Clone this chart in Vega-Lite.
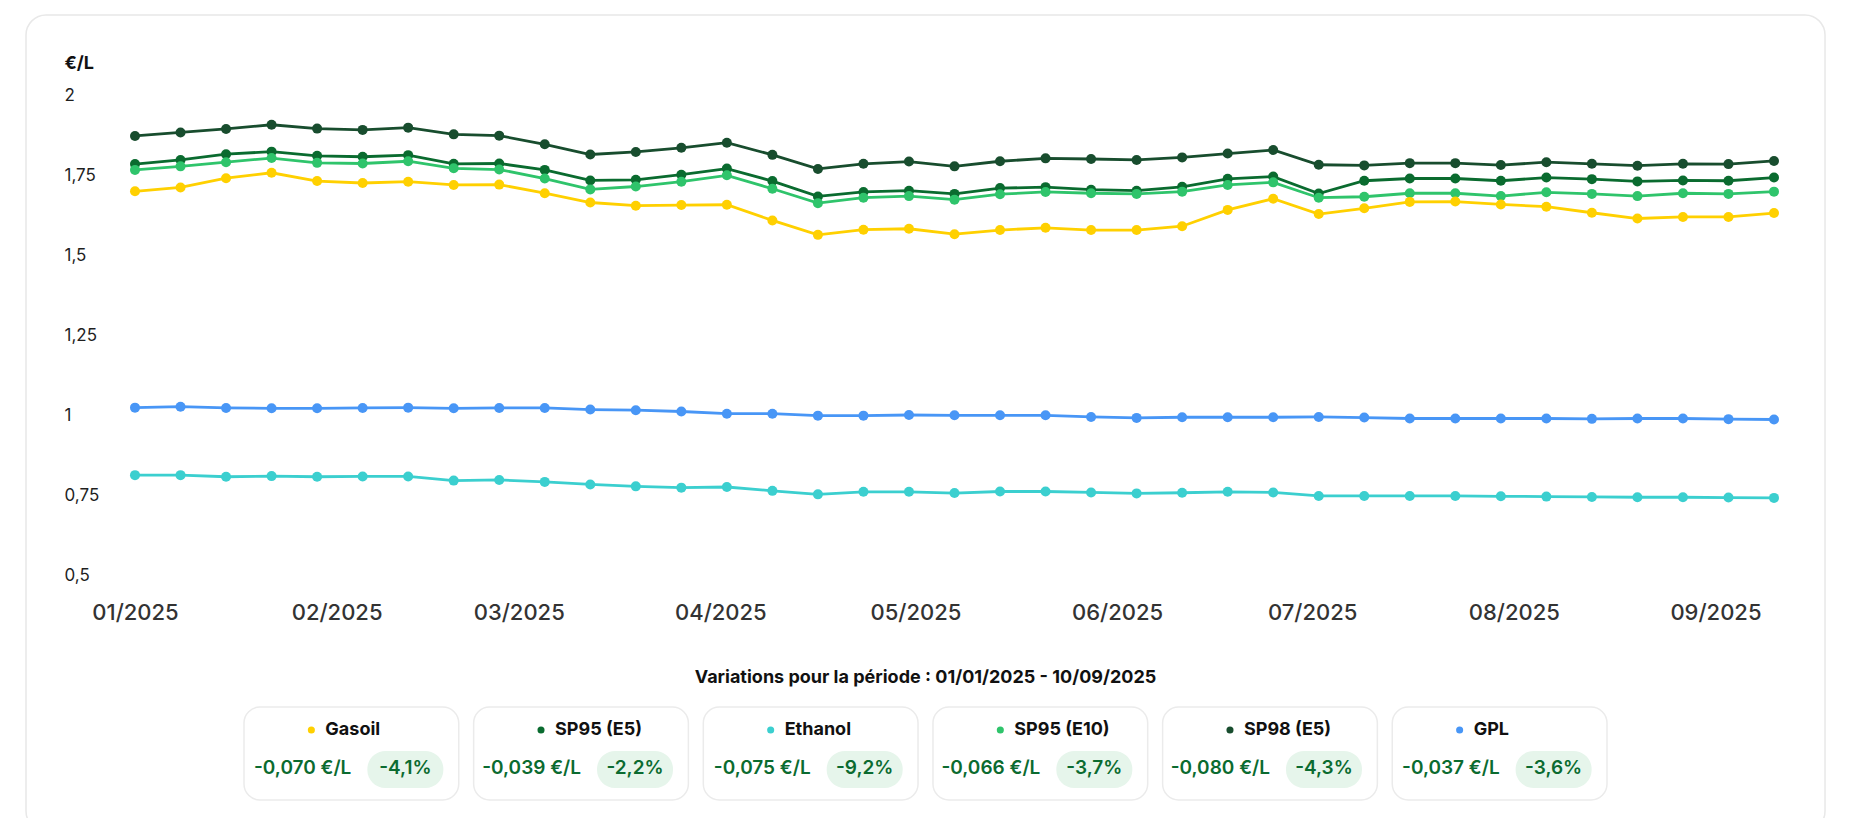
{
  "$schema": "https://vega.github.io/schema/vega-lite/v6.json",
  "width": 1643,
  "height": 480,
  "autosize": {"type": "none"},
  "padding": {"left": 131, "top": 95, "right": 82, "bottom": 243},
  "background": "white",
  "config": {"font": "Inter", "view": {"stroke": null}},
  "datasets": {
    "prices": [
      {"date": "2025-01-01", "fuel": "GPL", "price": 1.023}, {"date": "2025-01-08", "fuel": "GPL", "price": 1.026},
      {"date": "2025-01-15", "fuel": "GPL", "price": 1.022}, {"date": "2025-01-22", "fuel": "GPL", "price": 1.021},
      {"date": "2025-01-29", "fuel": "GPL", "price": 1.021}, {"date": "2025-02-05", "fuel": "GPL", "price": 1.022},
      {"date": "2025-02-12", "fuel": "GPL", "price": 1.023}, {"date": "2025-02-19", "fuel": "GPL", "price": 1.021},
      {"date": "2025-02-26", "fuel": "GPL", "price": 1.022}, {"date": "2025-03-05", "fuel": "GPL", "price": 1.022},
      {"date": "2025-03-12", "fuel": "GPL", "price": 1.017}, {"date": "2025-03-19", "fuel": "GPL", "price": 1.015},
      {"date": "2025-03-26", "fuel": "GPL", "price": 1.011}, {"date": "2025-04-02", "fuel": "GPL", "price": 1.004},
      {"date": "2025-04-09", "fuel": "GPL", "price": 1.004}, {"date": "2025-04-16", "fuel": "GPL", "price": 0.998},
      {"date": "2025-04-23", "fuel": "GPL", "price": 0.998}, {"date": "2025-04-30", "fuel": "GPL", "price": 1.000},
      {"date": "2025-05-07", "fuel": "GPL", "price": 0.999}, {"date": "2025-05-14", "fuel": "GPL", "price": 0.999},
      {"date": "2025-05-21", "fuel": "GPL", "price": 0.999}, {"date": "2025-05-28", "fuel": "GPL", "price": 0.994},
      {"date": "2025-06-04", "fuel": "GPL", "price": 0.991}, {"date": "2025-06-11", "fuel": "GPL", "price": 0.993},
      {"date": "2025-06-18", "fuel": "GPL", "price": 0.993}, {"date": "2025-06-25", "fuel": "GPL", "price": 0.993},
      {"date": "2025-07-02", "fuel": "GPL", "price": 0.994}, {"date": "2025-07-09", "fuel": "GPL", "price": 0.992},
      {"date": "2025-07-16", "fuel": "GPL", "price": 0.989}, {"date": "2025-07-23", "fuel": "GPL", "price": 0.989},
      {"date": "2025-07-30", "fuel": "GPL", "price": 0.989}, {"date": "2025-08-06", "fuel": "GPL", "price": 0.989},
      {"date": "2025-08-13", "fuel": "GPL", "price": 0.988}, {"date": "2025-08-20", "fuel": "GPL", "price": 0.989},
      {"date": "2025-08-27", "fuel": "GPL", "price": 0.989}, {"date": "2025-09-03", "fuel": "GPL", "price": 0.987},
      {"date": "2025-09-10", "fuel": "GPL", "price": 0.986},

      {"date": "2025-01-01", "fuel": "Ethanol", "price": 0.812}, {"date": "2025-01-08", "fuel": "Ethanol", "price": 0.812},
      {"date": "2025-01-15", "fuel": "Ethanol", "price": 0.807}, {"date": "2025-01-22", "fuel": "Ethanol", "price": 0.809},
      {"date": "2025-01-29", "fuel": "Ethanol", "price": 0.807}, {"date": "2025-02-05", "fuel": "Ethanol", "price": 0.808},
      {"date": "2025-02-12", "fuel": "Ethanol", "price": 0.808}, {"date": "2025-02-19", "fuel": "Ethanol", "price": 0.795},
      {"date": "2025-02-26", "fuel": "Ethanol", "price": 0.797}, {"date": "2025-03-05", "fuel": "Ethanol", "price": 0.791},
      {"date": "2025-03-12", "fuel": "Ethanol", "price": 0.783}, {"date": "2025-03-19", "fuel": "Ethanol", "price": 0.777},
      {"date": "2025-03-26", "fuel": "Ethanol", "price": 0.773}, {"date": "2025-04-02", "fuel": "Ethanol", "price": 0.775},
      {"date": "2025-04-09", "fuel": "Ethanol", "price": 0.763}, {"date": "2025-04-16", "fuel": "Ethanol", "price": 0.752},
      {"date": "2025-04-23", "fuel": "Ethanol", "price": 0.760}, {"date": "2025-04-30", "fuel": "Ethanol", "price": 0.760},
      {"date": "2025-05-07", "fuel": "Ethanol", "price": 0.756}, {"date": "2025-05-14", "fuel": "Ethanol", "price": 0.761},
      {"date": "2025-05-21", "fuel": "Ethanol", "price": 0.761}, {"date": "2025-05-28", "fuel": "Ethanol", "price": 0.758},
      {"date": "2025-06-04", "fuel": "Ethanol", "price": 0.755}, {"date": "2025-06-11", "fuel": "Ethanol", "price": 0.757},
      {"date": "2025-06-18", "fuel": "Ethanol", "price": 0.760}, {"date": "2025-06-25", "fuel": "Ethanol", "price": 0.758},
      {"date": "2025-07-02", "fuel": "Ethanol", "price": 0.747}, {"date": "2025-07-09", "fuel": "Ethanol", "price": 0.747},
      {"date": "2025-07-16", "fuel": "Ethanol", "price": 0.747}, {"date": "2025-07-23", "fuel": "Ethanol", "price": 0.747},
      {"date": "2025-07-30", "fuel": "Ethanol", "price": 0.746}, {"date": "2025-08-06", "fuel": "Ethanol", "price": 0.745},
      {"date": "2025-08-13", "fuel": "Ethanol", "price": 0.744}, {"date": "2025-08-20", "fuel": "Ethanol", "price": 0.743},
      {"date": "2025-08-27", "fuel": "Ethanol", "price": 0.743}, {"date": "2025-09-03", "fuel": "Ethanol", "price": 0.742},
      {"date": "2025-09-10", "fuel": "Ethanol", "price": 0.741},

      {"date": "2025-01-01", "fuel": "SP98 (E5)", "price": 1.872}, {"date": "2025-01-08", "fuel": "SP98 (E5)", "price": 1.883},
      {"date": "2025-01-15", "fuel": "SP98 (E5)", "price": 1.894}, {"date": "2025-01-22", "fuel": "SP98 (E5)", "price": 1.907},
      {"date": "2025-01-29", "fuel": "SP98 (E5)", "price": 1.895}, {"date": "2025-02-05", "fuel": "SP98 (E5)", "price": 1.891},
      {"date": "2025-02-12", "fuel": "SP98 (E5)", "price": 1.898}, {"date": "2025-02-19", "fuel": "SP98 (E5)", "price": 1.877},
      {"date": "2025-02-26", "fuel": "SP98 (E5)", "price": 1.873}, {"date": "2025-03-05", "fuel": "SP98 (E5)", "price": 1.846},
      {"date": "2025-03-12", "fuel": "SP98 (E5)", "price": 1.814}, {"date": "2025-03-19", "fuel": "SP98 (E5)", "price": 1.822},
      {"date": "2025-03-26", "fuel": "SP98 (E5)", "price": 1.835}, {"date": "2025-04-02", "fuel": "SP98 (E5)", "price": 1.851},
      {"date": "2025-04-09", "fuel": "SP98 (E5)", "price": 1.813}, {"date": "2025-04-16", "fuel": "SP98 (E5)", "price": 1.769},
      {"date": "2025-04-23", "fuel": "SP98 (E5)", "price": 1.785}, {"date": "2025-04-30", "fuel": "SP98 (E5)", "price": 1.792},
      {"date": "2025-05-07", "fuel": "SP98 (E5)", "price": 1.777}, {"date": "2025-05-14", "fuel": "SP98 (E5)", "price": 1.793},
      {"date": "2025-05-21", "fuel": "SP98 (E5)", "price": 1.802}, {"date": "2025-05-28", "fuel": "SP98 (E5)", "price": 1.800},
      {"date": "2025-06-04", "fuel": "SP98 (E5)", "price": 1.797}, {"date": "2025-06-11", "fuel": "SP98 (E5)", "price": 1.805},
      {"date": "2025-06-18", "fuel": "SP98 (E5)", "price": 1.817}, {"date": "2025-06-25", "fuel": "SP98 (E5)", "price": 1.828},
      {"date": "2025-07-02", "fuel": "SP98 (E5)", "price": 1.782}, {"date": "2025-07-09", "fuel": "SP98 (E5)", "price": 1.780},
      {"date": "2025-07-16", "fuel": "SP98 (E5)", "price": 1.787}, {"date": "2025-07-23", "fuel": "SP98 (E5)", "price": 1.787},
      {"date": "2025-07-30", "fuel": "SP98 (E5)", "price": 1.781}, {"date": "2025-08-06", "fuel": "SP98 (E5)", "price": 1.790},
      {"date": "2025-08-13", "fuel": "SP98 (E5)", "price": 1.785}, {"date": "2025-08-20", "fuel": "SP98 (E5)", "price": 1.779},
      {"date": "2025-08-27", "fuel": "SP98 (E5)", "price": 1.785}, {"date": "2025-09-03", "fuel": "SP98 (E5)", "price": 1.784},
      {"date": "2025-09-10", "fuel": "SP98 (E5)", "price": 1.794},

      {"date": "2025-01-01", "fuel": "SP95 (E5)", "price": 1.784}, {"date": "2025-01-08", "fuel": "SP95 (E5)", "price": 1.797},
      {"date": "2025-01-15", "fuel": "SP95 (E5)", "price": 1.815}, {"date": "2025-01-22", "fuel": "SP95 (E5)", "price": 1.823},
      {"date": "2025-01-29", "fuel": "SP95 (E5)", "price": 1.810}, {"date": "2025-02-05", "fuel": "SP95 (E5)", "price": 1.807},
      {"date": "2025-02-12", "fuel": "SP95 (E5)", "price": 1.812}, {"date": "2025-02-19", "fuel": "SP95 (E5)", "price": 1.785},
      {"date": "2025-02-26", "fuel": "SP95 (E5)", "price": 1.786}, {"date": "2025-03-05", "fuel": "SP95 (E5)", "price": 1.766},
      {"date": "2025-03-12", "fuel": "SP95 (E5)", "price": 1.733}, {"date": "2025-03-19", "fuel": "SP95 (E5)", "price": 1.735},
      {"date": "2025-03-26", "fuel": "SP95 (E5)", "price": 1.751}, {"date": "2025-04-02", "fuel": "SP95 (E5)", "price": 1.770},
      {"date": "2025-04-09", "fuel": "SP95 (E5)", "price": 1.731}, {"date": "2025-04-16", "fuel": "SP95 (E5)", "price": 1.683},
      {"date": "2025-04-23", "fuel": "SP95 (E5)", "price": 1.697}, {"date": "2025-04-30", "fuel": "SP95 (E5)", "price": 1.701},
      {"date": "2025-05-07", "fuel": "SP95 (E5)", "price": 1.691}, {"date": "2025-05-14", "fuel": "SP95 (E5)", "price": 1.709},
      {"date": "2025-05-21", "fuel": "SP95 (E5)", "price": 1.712}, {"date": "2025-05-28", "fuel": "SP95 (E5)", "price": 1.704},
      {"date": "2025-06-04", "fuel": "SP95 (E5)", "price": 1.701}, {"date": "2025-06-11", "fuel": "SP95 (E5)", "price": 1.713},
      {"date": "2025-06-18", "fuel": "SP95 (E5)", "price": 1.738}, {"date": "2025-06-25", "fuel": "SP95 (E5)", "price": 1.745},
      {"date": "2025-07-02", "fuel": "SP95 (E5)", "price": 1.692}, {"date": "2025-07-09", "fuel": "SP95 (E5)", "price": 1.732},
      {"date": "2025-07-16", "fuel": "SP95 (E5)", "price": 1.739}, {"date": "2025-07-23", "fuel": "SP95 (E5)", "price": 1.739},
      {"date": "2025-07-30", "fuel": "SP95 (E5)", "price": 1.732}, {"date": "2025-08-06", "fuel": "SP95 (E5)", "price": 1.742},
      {"date": "2025-08-13", "fuel": "SP95 (E5)", "price": 1.737}, {"date": "2025-08-20", "fuel": "SP95 (E5)", "price": 1.730},
      {"date": "2025-08-27", "fuel": "SP95 (E5)", "price": 1.733}, {"date": "2025-09-03", "fuel": "SP95 (E5)", "price": 1.732},
      {"date": "2025-09-10", "fuel": "SP95 (E5)", "price": 1.742},

      {"date": "2025-01-01", "fuel": "SP95 (E10)", "price": 1.766}, {"date": "2025-01-08", "fuel": "SP95 (E10)", "price": 1.777},
      {"date": "2025-01-15", "fuel": "SP95 (E10)", "price": 1.790}, {"date": "2025-01-22", "fuel": "SP95 (E10)", "price": 1.803},
      {"date": "2025-01-29", "fuel": "SP95 (E10)", "price": 1.788}, {"date": "2025-02-05", "fuel": "SP95 (E10)", "price": 1.786},
      {"date": "2025-02-12", "fuel": "SP95 (E10)", "price": 1.793}, {"date": "2025-02-19", "fuel": "SP95 (E10)", "price": 1.771},
      {"date": "2025-02-26", "fuel": "SP95 (E10)", "price": 1.767}, {"date": "2025-03-05", "fuel": "SP95 (E10)", "price": 1.739},
      {"date": "2025-03-12", "fuel": "SP95 (E10)", "price": 1.705}, {"date": "2025-03-19", "fuel": "SP95 (E10)", "price": 1.714},
      {"date": "2025-03-26", "fuel": "SP95 (E10)", "price": 1.729}, {"date": "2025-04-02", "fuel": "SP95 (E10)", "price": 1.749},
      {"date": "2025-04-09", "fuel": "SP95 (E10)", "price": 1.707}, {"date": "2025-04-16", "fuel": "SP95 (E10)", "price": 1.662},
      {"date": "2025-04-23", "fuel": "SP95 (E10)", "price": 1.679}, {"date": "2025-04-30", "fuel": "SP95 (E10)", "price": 1.684},
      {"date": "2025-05-07", "fuel": "SP95 (E10)", "price": 1.673}, {"date": "2025-05-14", "fuel": "SP95 (E10)", "price": 1.690},
      {"date": "2025-05-21", "fuel": "SP95 (E10)", "price": 1.697}, {"date": "2025-05-28", "fuel": "SP95 (E10)", "price": 1.693},
      {"date": "2025-06-04", "fuel": "SP95 (E10)", "price": 1.691}, {"date": "2025-06-11", "fuel": "SP95 (E10)", "price": 1.698},
      {"date": "2025-06-18", "fuel": "SP95 (E10)", "price": 1.719}, {"date": "2025-06-25", "fuel": "SP95 (E10)", "price": 1.727},
      {"date": "2025-07-02", "fuel": "SP95 (E10)", "price": 1.679}, {"date": "2025-07-09", "fuel": "SP95 (E10)", "price": 1.682},
      {"date": "2025-07-16", "fuel": "SP95 (E10)", "price": 1.693}, {"date": "2025-07-23", "fuel": "SP95 (E10)", "price": 1.693},
      {"date": "2025-07-30", "fuel": "SP95 (E10)", "price": 1.684}, {"date": "2025-08-06", "fuel": "SP95 (E10)", "price": 1.696},
      {"date": "2025-08-13", "fuel": "SP95 (E10)", "price": 1.691}, {"date": "2025-08-20", "fuel": "SP95 (E10)", "price": 1.684},
      {"date": "2025-08-27", "fuel": "SP95 (E10)", "price": 1.693}, {"date": "2025-09-03", "fuel": "SP95 (E10)", "price": 1.691},
      {"date": "2025-09-10", "fuel": "SP95 (E10)", "price": 1.698},

      {"date": "2025-01-01", "fuel": "Gasoil", "price": 1.699}, {"date": "2025-01-08", "fuel": "Gasoil", "price": 1.711},
      {"date": "2025-01-15", "fuel": "Gasoil", "price": 1.740}, {"date": "2025-01-22", "fuel": "Gasoil", "price": 1.757},
      {"date": "2025-01-29", "fuel": "Gasoil", "price": 1.731}, {"date": "2025-02-05", "fuel": "Gasoil", "price": 1.725},
      {"date": "2025-02-12", "fuel": "Gasoil", "price": 1.729}, {"date": "2025-02-19", "fuel": "Gasoil", "price": 1.719},
      {"date": "2025-02-26", "fuel": "Gasoil", "price": 1.720}, {"date": "2025-03-05", "fuel": "Gasoil", "price": 1.693},
      {"date": "2025-03-12", "fuel": "Gasoil", "price": 1.664}, {"date": "2025-03-19", "fuel": "Gasoil", "price": 1.654},
      {"date": "2025-03-26", "fuel": "Gasoil", "price": 1.656}, {"date": "2025-04-02", "fuel": "Gasoil", "price": 1.657},
      {"date": "2025-04-09", "fuel": "Gasoil", "price": 1.608}, {"date": "2025-04-16", "fuel": "Gasoil", "price": 1.563},
      {"date": "2025-04-23", "fuel": "Gasoil", "price": 1.579}, {"date": "2025-04-30", "fuel": "Gasoil", "price": 1.582},
      {"date": "2025-05-07", "fuel": "Gasoil", "price": 1.565}, {"date": "2025-05-14", "fuel": "Gasoil", "price": 1.578},
      {"date": "2025-05-21", "fuel": "Gasoil", "price": 1.585}, {"date": "2025-05-28", "fuel": "Gasoil", "price": 1.578},
      {"date": "2025-06-04", "fuel": "Gasoil", "price": 1.578}, {"date": "2025-06-11", "fuel": "Gasoil", "price": 1.590},
      {"date": "2025-06-18", "fuel": "Gasoil", "price": 1.641}, {"date": "2025-06-25", "fuel": "Gasoil", "price": 1.676},
      {"date": "2025-07-02", "fuel": "Gasoil", "price": 1.628}, {"date": "2025-07-09", "fuel": "Gasoil", "price": 1.646},
      {"date": "2025-07-16", "fuel": "Gasoil", "price": 1.666}, {"date": "2025-07-23", "fuel": "Gasoil", "price": 1.667},
      {"date": "2025-07-30", "fuel": "Gasoil", "price": 1.658}, {"date": "2025-08-06", "fuel": "Gasoil", "price": 1.651},
      {"date": "2025-08-13", "fuel": "Gasoil", "price": 1.632}, {"date": "2025-08-20", "fuel": "Gasoil", "price": 1.614},
      {"date": "2025-08-27", "fuel": "Gasoil", "price": 1.619}, {"date": "2025-09-03", "fuel": "Gasoil", "price": 1.619},
      {"date": "2025-09-10", "fuel": "Gasoil", "price": 1.631}
    ],
    "variations": [
      {"fuel": "Gasoil", "change": "-0,070 €/L", "pct": "-4,1%"},
      {"fuel": "SP95 (E5)", "change": "-0,039 €/L", "pct": "-2,2%"},
      {"fuel": "Ethanol", "change": "-0,075 €/L", "pct": "-9,2%"},
      {"fuel": "SP95 (E10)", "change": "-0,066 €/L", "pct": "-3,7%"},
      {"fuel": "SP98 (E5)", "change": "-0,080 €/L", "pct": "-4,3%"},
      {"fuel": "GPL", "change": "-0,037 €/L", "pct": "-3,6%"}
    ]
  },
  "layer": [
    {
      "layer": [
        {
          "data": {"values": [{}]},
          "mark": {"type": "rect", "fill": "transparent", "stroke": "#e8e8e8", "strokeWidth": 1.5, "cornerRadius": 20},
          "encoding": {
            "x": {"datum": {"year": 2024, "month": 12, "date": 15, "hours": 5, "minutes": 48, "utc": true}, "type": "temporal"},
            "x2": {"datum": {"year": 2025, "month": 9, "date": 17, "hours": 20, "minutes": 17, "utc": true}},
            "y": {"datum": 2.25, "type": "quantitative"},
            "y2": {"datum": -0.3}
          }
        },
        {
          "data": {"name": "prices"},
          "mark": {"type": "line", "strokeWidth": 2.8, "point": {"filled": true, "size": 100}},
          "encoding": {
            "x": {
              "field": "date",
              "type": "temporal",
              "scale": {"type": "utc", "domain": ["2024-12-31T09:15:00Z", "2025-09-10T00:00:00Z"]},
              "axis": {
                "values": [
                  {"year": 2025, "month": 1, "date": 1, "utc": true},
                  {"year": 2025, "month": 2, "date": 1, "utc": true},
                  {"year": 2025, "month": 3, "date": 1, "utc": true},
                  {"year": 2025, "month": 4, "date": 1, "utc": true},
                  {"year": 2025, "month": 5, "date": 1, "utc": true},
                  {"year": 2025, "month": 6, "date": 1, "utc": true},
                  {"year": 2025, "month": 7, "date": 1, "utc": true},
                  {"year": 2025, "month": 8, "date": 1, "utc": true},
                  {"year": 2025, "month": 9, "date": 1, "utc": true}
                ],
                "format": "%m/%Y",
                "labelFlush": false,
                "labelOverlap": false,
                "labelFontSize": 22,
                "labelFontWeight": 500,
                "labelColor": "#333333",
                "labelBaseline": "middle",
                "labelPadding": 37,
                "ticks": false,
                "tickSize": 0,
                "domain": false,
                "grid": false,
                "title": null
              }
            },
            "y": {
              "field": "price",
              "type": "quantitative",
              "scale": {"domain": [0.5, 2], "nice": false, "zero": false},
              "axis": {
                "values": [0.5, 0.75, 1, 1.25, 1.5, 1.75, 2],
                "labelExpr": "replace(format(datum.value, '.2~f'), '.', ',')",
                "labelAlign": "left",
                "labelBaseline": "middle",
                "labelPadding": 67,
                "labelFontSize": 17,
                "labelColor": "#1f1f1f",
                "ticks": false,
                "tickSize": 0,
                "domain": false,
                "gridColor": "#e6e6e6",
                "gridWidth": 1,
                "title": "€/L",
                "titleAngle": 0,
                "titleAlign": "left",
                "titleBaseline": "middle",
                "titleX": -67,
                "titleY": -32,
                "titleFontSize": 18,
                "titleFontWeight": "bold",
                "titleColor": "#111111"
              }
            },
            "color": {
              "field": "fuel",
              "type": "nominal",
              "scale": {
                "domain": ["Gasoil", "SP95 (E5)", "Ethanol", "SP95 (E10)", "SP98 (E5)", "GPL"],
                "range": ["#ffd000", "#0a6b2f", "#3bcfcf", "#2fc46b", "#184d2e", "#4896f6"]
              },
              "legend": null
            }
          }
        }
      ]
    },
    {
      "data": {"name": "variations"},
      "encoding": {
        "x": {
          "field": "fuel",
          "type": "nominal",
          "scale": {
            "type": "band",
            "domain": ["Gasoil", "SP95 (E5)", "Ethanol", "SP95 (E10)", "SP98 (E5)", "GPL"],
            "range": [113, 1476],
            "paddingInner": 0.065,
            "paddingOuter": 0
          },
          "axis": null
        }
      },
      "layer": [
        {
          "mark": {"type": "rect", "fill": "white", "stroke": "#ebebeb", "strokeWidth": 1.5, "cornerRadius": 16},
          "encoding": {
            "y": {"datum": 0.2377, "type": "quantitative", "scale": {"domain": [0, 1], "range": [583, 705]}, "axis": null},
            "y2": {"datum": 1}
          }
        },
        {
          "mark": {"type": "bar", "width": 76, "xOffset": 54, "fill": "#e6f5eb", "cornerRadius": 18},
          "encoding": {
            "y": {"datum": 0.5984, "type": "quantitative"},
            "y2": {"datum": 0.9016}
          }
        },
        {
          "data": {"values": [{}]},
          "mark": {"type": "text", "text": "Variations pour la période : 01/01/2025 - 10/09/2025", "fontSize": 18, "fontWeight": "bold", "align": "center", "baseline": "middle", "dx": 7.5, "color": "#111111"},
          "encoding": {
            "x": {"datum": "Ethanol", "bandPosition": 1},
            "y": {"datum": 0, "type": "quantitative"}
          }
        },
        {
          "mark": {"type": "circle", "size": 50, "opacity": 1, "xOffset": -40},
          "encoding": {
            "y": {"datum": 0.4262, "type": "quantitative"},
            "color": {"field": "fuel", "type": "nominal", "legend": null}
          }
        },
        {
          "mark": {"type": "text", "fontSize": 18, "fontWeight": "bold", "align": "left", "baseline": "middle", "dx": -26, "color": "#111111"},
          "encoding": {
            "y": {"datum": 0.4262, "type": "quantitative"},
            "text": {"field": "fuel"}
          }
        },
        {
          "mark": {"type": "text", "fontSize": 19, "fontWeight": 600, "align": "right", "baseline": "middle", "dx": 0, "color": "#0b6b30"},
          "encoding": {
            "y": {"datum": 0.7418, "type": "quantitative"},
            "text": {"field": "change"}
          }
        },
        {
          "mark": {"type": "text", "fontSize": 19, "fontWeight": 600, "align": "center", "baseline": "middle", "dx": 54, "color": "#0b6b30"},
          "encoding": {
            "y": {"datum": 0.7418, "type": "quantitative"},
            "text": {"field": "pct"}
          }
        }
      ]
    }
  ],
  "resolve": {"scale": {"x": "independent", "y": "independent"}}
}
